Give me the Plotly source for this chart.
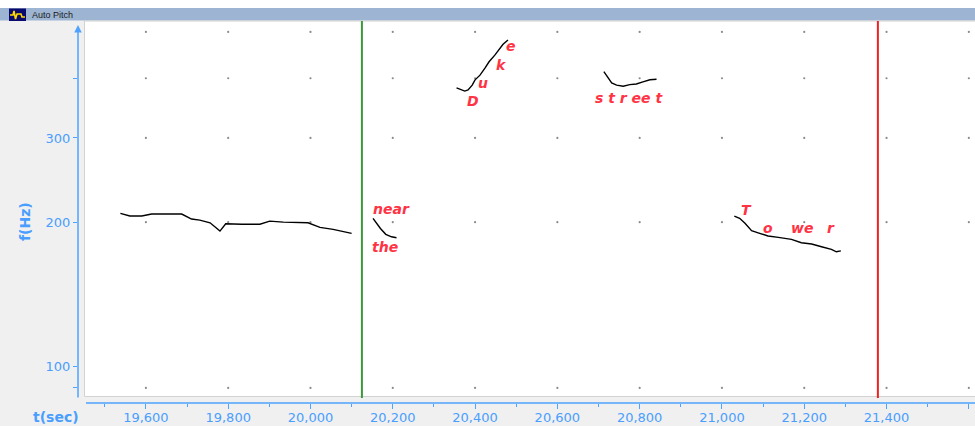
import itertools
import numpy as np
import plotly.graph_objects as go

# ---------------- data ----------------
# pitch contours: time (ms) and f0 (Hz)
seg1_t = [19538, 19561, 19590, 19614, 19687, 19711, 19731, 19756, 19780, 19794,
          19833, 19877, 19901, 19934, 19994, 20023, 20055, 20100]
seg1_f = [208.7, 206, 206, 208, 208, 203, 202, 199.4, 191.6, 198.5,
          198, 198, 201, 200, 199.4, 195, 193.2, 189.5]
seg2_t = [20152, 20162, 20170, 20183, 20197, 20209]
seg2_f = [203.7, 198, 194, 188.6, 186.4, 185.5]
seg3_t = [20355, 20365, 20375, 20383, 20393, 20400, 20412, 20424, 20434, 20448,
          20460, 20468, 20480]
seg3_f = [382, 379, 376, 378, 387, 397, 406, 420, 433, 447, 462, 471, 481]
seg4_t = [20713, 20721, 20732, 20744, 20760, 20776, 20792, 20808, 20825, 20841]
seg4_f = [413, 404, 391, 387, 385, 388, 389, 393, 397, 398]
seg5_t = [21030, 21043, 21056, 21072, 21088, 21112, 21137, 21153, 21169, 21193,
          21218, 21242, 21266, 21278, 21289]
seg5_f = [206, 203.7, 198.9, 191.9, 190, 187.1, 185.9, 185.3, 184.1, 181.1,
          180, 177.7, 175.4, 173.4, 174.2]

# word / phoneme labels
label_text = ["near", "the", "D", "u", "k", "e", "s t r ee t", "T", "o", "we", "r"]
label_t = [20198, 20182, 20395, 20420, 20465, 20487, 20773, 21060, 21113, 21194, 21265]
label_f = [212.9, 177.7, 358.4, 390.5, 426.4, 466.7, 363.7, 212.5, 194.4, 194.4, 194.4]

# cursors
green_cursor_t = 20125
red_cursor_t = 21379

# axes
x_range = [19435, 21615]
y_range_hz = [83.7, 527]
x_major = list(range(19600, 21601, 200))
x_minor = list(range(19500, 21601, 200))
x_ticktext = [f"{v:,}" for v in x_major]
y_tickvals = [90, 100, 200, 300, 400]
y_ticktext = ["", "100", "200", "300", ""]
grid_y = [90, 200, 300, 400, 500]

# ---------------- styling ----------------
W, H = 975, 426
L, R, T, B = 78, 0, 21, 23
PW, PH = W - L - R, H - T - B
BLUE_TXT = "#4a9eff"
BLUE_LINE = "#4da3ff"
RED_TXT = "#ff3344"


def px(xp):
    return (xp - L) / PW


def py(yp):
    return (H - B - yp) / PH


fig = go.Figure()

# grid dots
gx, gy = zip(*itertools.product(x_major, grid_y))
fig.add_trace(go.Scatter(x=list(gx), y=list(gy), mode="markers",
                         marker=dict(size=2.2, color="#8a8a8a"),
                         hoverinfo="skip", showlegend=False))

for st, sf in [(seg1_t, seg1_f), (seg2_t, seg2_f), (seg3_t, seg3_f),
               (seg4_t, seg4_f), (seg5_t, seg5_f)]:
    fig.add_trace(go.Scatter(x=st, y=sf, mode="lines",
                             line=dict(color="black", width=1.4),
                             showlegend=False))

shapes = [
    # top white strip + title bar
    dict(type="rect", xref="paper", yref="paper", x0=px(0), x1=px(W), y0=py(8), y1=py(0),
         fillcolor="white", line=dict(width=0), layer="below"),
    dict(type="rect", xref="paper", yref="paper", x0=px(0), x1=px(W), y0=py(20.5), y1=py(8),
         fillcolor="#9db5d3", line=dict(width=0), layer="below"),
    # icon
    dict(type="rect", xref="paper", yref="paper", x0=px(9), x1=px(26), y0=py(21), y1=py(8.5),
         fillcolor="#0a0a6e", line=dict(width=0)),
    dict(type="path", xref="paper", yref="paper",
         path=f"M {px(10)},{py(15)} L {px(13)},{py(15)} L {px(14)},{py(11)} L {px(15.5)},{py(19)} "
              f"L {px(17)},{py(14)} L {px(21)},{py(14)} L {px(22)},{py(17)} L {px(25)},{py(17)}",
         line=dict(color="#ffd800", width=1.6)),
    # white plot panel
    dict(type="rect", xref="paper", yref="paper", x0=px(84.5), x1=px(W + 2), y0=py(396.5), y1=py(21),
         fillcolor="white", line=dict(color="#d2d2d2", width=1), layer="below"),
    # x axis line
    dict(type="line", xref="paper", yref="paper", x0=px(86), x1=px(W), y0=0, y1=0,
         line=dict(color=BLUE_LINE, width=1.5)),
    # cursors
    dict(type="line", xref="x", yref="paper", x0=green_cursor_t, x1=green_cursor_t,
         y0=py(398), y1=py(21), line=dict(color="#3a9a3a", width=2)),
    dict(type="line", xref="x", yref="paper", x0=red_cursor_t, x1=red_cursor_t,
         y0=py(398), y1=py(21), line=dict(color="#ee2222", width=2)),
]

annotations = [
    # y axis line with arrow
    dict(xref="paper", yref="paper", x=0, y=py(25), ax=0, ay=374, axref="pixel", ayref="pixel",
         text="", showarrow=True, arrowhead=2, arrowsize=1, arrowwidth=1.5, arrowcolor=BLUE_LINE),
    dict(xref="paper", yref="paper", x=px(25), y=py(222), text="f(Hz)", textangle=-90,
         xanchor="center", yanchor="middle",
         showarrow=False, font=dict(family="DejaVu Sans", size=14, color=BLUE_TXT, weight="bold")),
    dict(xref="paper", yref="paper", x=px(55.5), y=py(417), text="t(sec)",
         xanchor="center", yanchor="middle",
         showarrow=False, font=dict(family="DejaVu Sans", size=14, color=BLUE_TXT, weight="bold")),
    dict(xref="paper", yref="paper", x=px(30), y=py(14.5), xanchor="left", yanchor="middle",
         text="Auto Pitch",
         showarrow=False, font=dict(family="Liberation Sans", size=9, color="#1a1a1a")),
]
for txt, t, f in zip(label_text, label_t, label_f):
    annotations.append(dict(xref="x", yref="y", x=t, y=float(np.log10(f)), text=txt,
                            xanchor="center", yanchor="middle", showarrow=False,
                            font=dict(family="DejaVu Sans", size=14, color=RED_TXT,
                                      weight="bold", style="italic")))

fig.update_layout(
    width=W, height=H,
    margin=dict(l=L, r=R, t=T, b=B, pad=0),
    paper_bgcolor="#f0f0f0", plot_bgcolor="#f0f0f0",
    showlegend=False,
    shapes=shapes, annotations=annotations,
    xaxis=dict(range=x_range, showgrid=False, zeroline=False, showline=False,
               tickmode="array", tickvals=x_major, ticktext=x_ticktext,
               ticks="outside", ticklen=5, tickwidth=1, tickcolor=BLUE_LINE,
               ticklabelstandoff=-3,
               tickfont=dict(family="DejaVu Sans", size=13, color=BLUE_TXT),
               minor=dict(tickmode="array", tickvals=x_minor, ticks="outside", ticklen=3,
                          tickcolor=BLUE_LINE, showgrid=False),
               fixedrange=True),
    yaxis=dict(type="log", range=[float(np.log10(y_range_hz[0])), float(np.log10(y_range_hz[1]))],
               showgrid=False, zeroline=False, showline=False,
               tickmode="array", tickvals=y_tickvals, ticktext=y_ticktext,
               ticks="outside", ticklen=4, tickwidth=1, tickcolor=BLUE_LINE,
               tickfont=dict(family="DejaVu Sans", size=13, color=BLUE_TXT),
               fixedrange=True),
)

fig.write_html("out.html", config={"displayModeBar": False},
               post_script="document.body.style.margin='0';document.body.style.overflow='hidden';")
